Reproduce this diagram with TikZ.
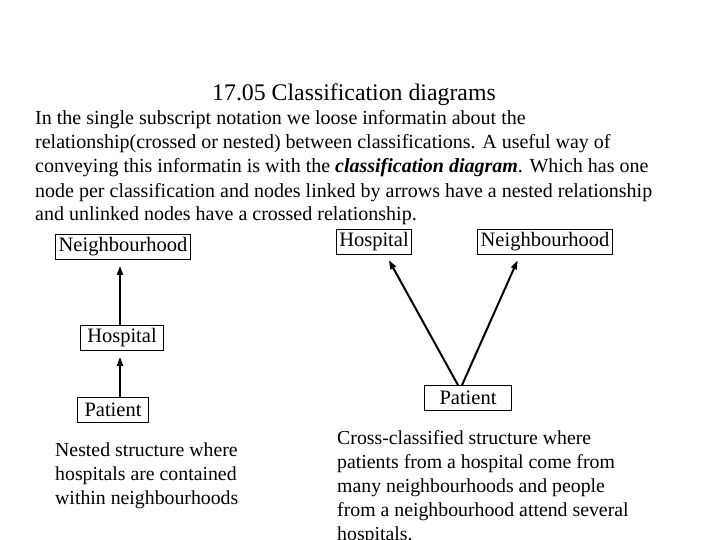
\documentclass[tikz,border=0pt]{standalone}
\usepackage{fontspec}
\setmainfont{Liberation Serif}
\usetikzlibrary{arrows.meta}
\tikzset{%
    txt/.style={anchor=base west, inner sep=0pt, font=\fontsize{20}{24}\selectfont},
    small/.style={anchor=base west, inner sep=0pt, font=\fontsize{19.8}{24}\selectfont},
    box/.style={draw, line width=0.8pt, inner xsep=3pt, inner ysep=1pt,
        font=\fontsize{20.5}{24}\selectfont, minimum height=25pt},
    link/.style={-{Triangle[length=9pt, width=6pt]}, line width=2pt, shorten >=6pt}
}
\begin{document}
\begin{tikzpicture}[x=1pt, y=-1pt]
    \useasboundingbox (0, 0) rectangle (720, 540);

    % Title and text
    \node[anchor=base, inner sep=0pt, font=\fontsize{23.8}{28}\selectfont] (title) at (354, 101)
        {17.05 Classification diagrams};
    \node[txt] (l1) at (35, 125) {In the single subscript notation we loose informatin about the};
    \node[txt] (l2) at (35, 149) {relationship(crossed or nested) between classifications. A useful way of};
    \node[txt] (l3) at (35, 173) {conveying this informatin is with the \textbf{\textit{classification diagram}}. Which has one};
    \node[txt] (l4) at (35, 197) {node per classification and nodes linked by arrows have a nested relationship};
    \node[txt] (l5) at (35, 221) {and unlinked nodes have a crossed relationship.};

    % Nested diagram
    \node[box] (nbh1) at (123, 247) {Neighbourhood};
    \node[box, inner xsep=7pt] (hosp1) at (122, 338) {Hospital};
    \node[box, inner xsep=7pt] (pat1) at (113, 410) {Patient};
    \draw[link] (120, 325) -- (nbh1.south -| 120, 0);
    \draw[link] (pat1.north -| 120, 0) -- (hosp1.south -| 120, 0);

    % Crossed diagram
    \node[box] (hosp2) at (374, 242) {Hospital};
    \node[box] (nbh2) at (545, 242) {Neighbourhood};
    \node[box, inner xsep=15pt] (pat2) at (468, 398) {Patient};
    \draw[link] ([xshift=-10pt] pat2.north) -- ([xshift=12pt] hosp2.south);
    \draw[link] ([xshift=-6pt] pat2.north) -- ([xshift=-25pt] nbh2.south);

    % Captions
    \node[small] (c1) at (55, 456) {Nested structure where};
    \node[small] (c2) at (55, 480) {hospitals are contained};
    \node[small] (c3) at (55, 504) {within neighbourhoods};
    \node[small] (d1) at (337, 444) {Cross-classified structure where};
    \node[small] (d2) at (337, 468) {patients from a hospital come from};
    \node[small] (d3) at (337, 492) {many neighbourhoods and people};
    \node[small] (d4) at (337, 516) {from a neighbourhood attend several};
    \node[small] (d5) at (337, 540) {hospitals.};
\end{tikzpicture}
\end{document}
